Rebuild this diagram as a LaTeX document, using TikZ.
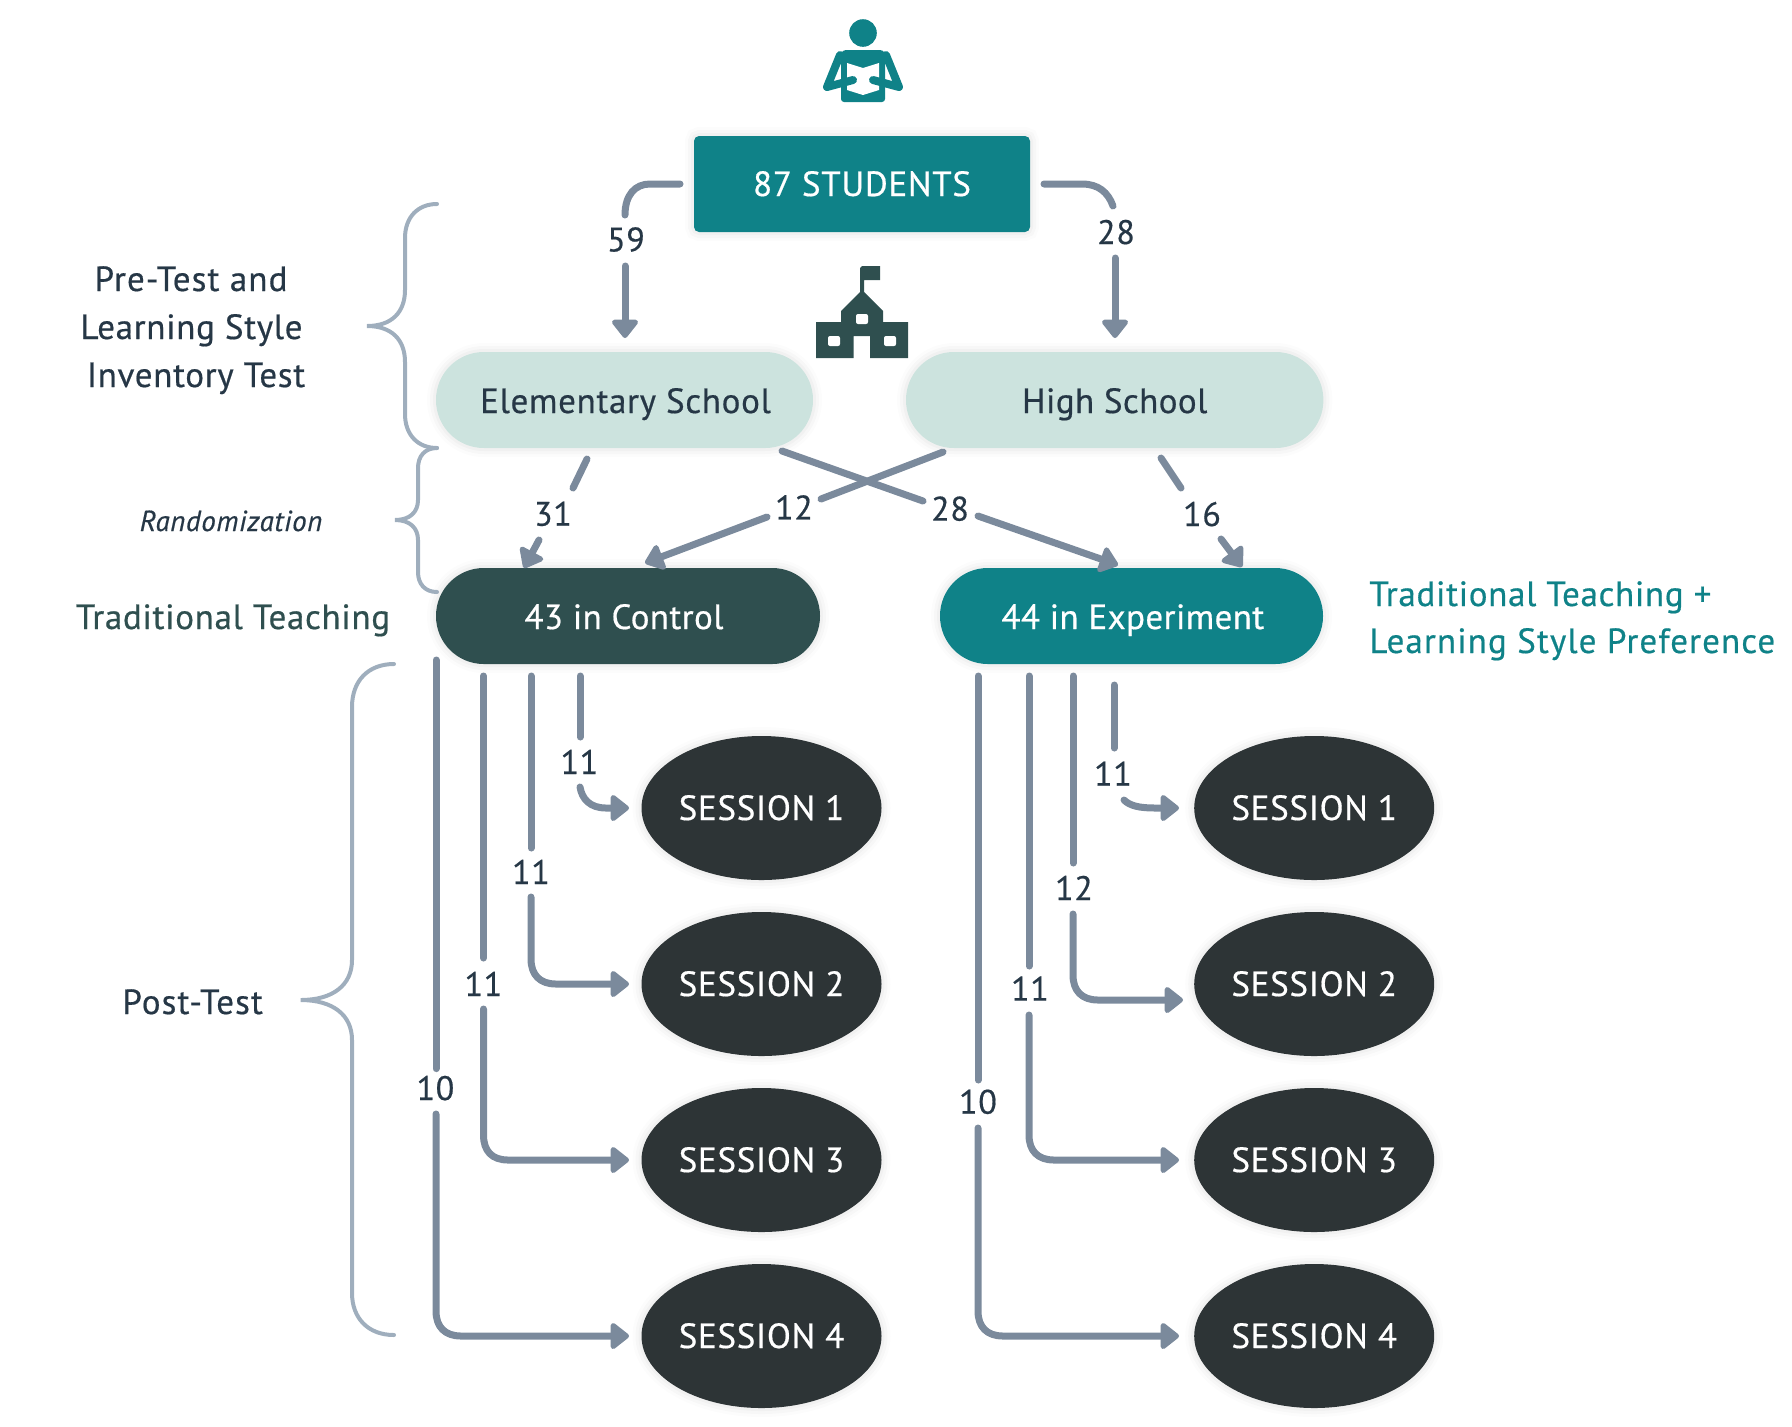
\documentclass[tikz,border=0pt]{standalone}
\usepackage{fontspec}
\setmainfont[LetterSpace=2,RawFeature={embolden=0.5}]{PT Sans}
\usetikzlibrary{arrows.meta,shapes.geometric}
\definecolor{tealc}{HTML}{0F8288}
\definecolor{slatec}{HTML}{2F4F4F}
\definecolor{mintc}{HTML}{CCE3DE}
\definecolor{darkc}{HTML}{2D3436}
\definecolor{inkc}{HTML}{263746}
\definecolor{linec}{HTML}{7B8A9C}
\definecolor{bracec}{HTML}{9FAEBD}
\tikzset{
  softshadow/.style={
    preaction={draw=black,draw opacity=.012,line width=9pt,yshift=-2pt,fill=none},
    preaction={draw=black,draw opacity=.018,line width=6pt,yshift=-2pt,fill=none},
    preaction={draw=black,draw opacity=.025,line width=3pt,yshift=-2pt,fill=none}},
  capbase/.style={text height=12pt,text depth=0pt,inner sep=0pt},
  txt/.style={font=\fontsize{17.5}{21}\selectfont},
  widetxt/.style={font=\fontsize{17.5}{21}\selectfont\addfontfeature{LetterSpace=3.2}},
  tighttxt/.style={font=\fontsize{17.5}{21}\selectfont\addfontfeature{LetterSpace=1.2}},
  whitetxt/.style={txt,text=white},
  pill/.style={rounded corners=23.9pt,minimum height=48pt,inner sep=0pt,capbase,text height=13pt,txt,softshadow},
  sessionnode/.style={ellipse,fill=darkc,minimum width=120pt,minimum height=72pt,inner sep=0pt,capbase,whitetxt,softshadow},
  conn/.style={draw=linec,line width=3.5pt,line cap=round},
  arrowconn/.style={conn,-{Triangle[length=10pt,width=15pt,round]}},
  brace/.style={draw=bracec,line width=2pt,line cap=round,fill=none},
  count/.style={txt,text=inkc,capbase,font=\fontsize{17}{20}\selectfont},
  side/.style={txt,text=inkc,capbase,anchor=center},
}
\begin{document}
\begin{tikzpicture}[x=0.5pt,y=-0.5pt]
\useasboundingbox (0,0) rectangle (1792,1426);
% person icon
\fill[tealc] (863,33) circle[radius=6.9pt];
\fill[tealc,rounded corners=1.5pt] (843,50) -- (883,50) -- (890,62) -- (885,62) -- (885,102) -- (841,102) -- (841,62) -- (836,62) -- cycle;
\fill[white] (847,63) -- (863,68) -- (879,63) -- (879,90) -- (863,95) -- (847,90) -- cycle;
\draw[tealc,line width=4pt,line cap=round,line join=round] (840,55) -- (827,87) -- (853,80);
\draw[tealc,line width=4pt,line cap=round,line join=round] (886,55) -- (899,87) -- (873,80);
% school icon
\fill[slatec] (860,268) -- (860,292) -- (841,311) -- (841,322) -- (816,322) -- (816,358) -- (853.5,358) -- (853.5,336) -- (870,336) -- (870,358) -- (908,358) -- (908,322) -- (883,322) -- (883,311) -- (864,292) -- (864,280) -- (880,280) -- (880,266) -- (862,266) -- cycle;
\fill[white,rounded corners=1pt] (856,314) rectangle (868,324);
\fill[white,rounded corners=1pt] (828,336) rectangle (840,346);
\fill[white,rounded corners=1pt] (884,336) rectangle (896,346);
% boxes
\node[rectangle,fill=tealc,rounded corners=2.5pt,minimum width=168pt,minimum height=48pt,capbase,whitetxt,softshadow] (students) at (862,184) {87 STUDENTS};
\node[pill,fill=mintc,text=inkc,minimum width=188.5pt] (elem) at (624.5,400) {\kern1pt Elementary School};
\node[pill,fill=mintc,text=inkc,tighttxt,minimum width=208.7pt] (high) at (1114.7,400) {High School};
\node[pill,fill=slatec,text=white,tighttxt,minimum width=192pt] (control) at (628,616) {\kern-4pt 43 in Control};
\node[pill,fill=tealc,text=white,tighttxt,minimum width=191.5pt] (exper) at (1131.5,616) {\kern1.3pt 44 in Experiment};
\foreach \n/\y/\t in {a/808/1,b/984/2,c/1160/3,d/1336/4}{
  \node[sessionnode] (l\n) at (761.5,\y) {SESSION \t};
  \node[sessionnode] (r\n) at (1314.2,\y) {SESSION \t};
}
% side labels
\node[side,widetxt] (pre1) at (191,279) {Pre-Test and};
\node[side] (pre2) at (191.5,327) {Learning Style};
\node[side] (pre3) at (196,375) {Inventory Test};
\node[txt,text=inkc,capbase,font=\fontsize{14.5}{18}\selectfont\itshape] (rand) at (231,519) {Randomization};
\node[side,text=slatec] (trad) at (233,617) {Traditional Teaching};
\node[txt,text=tealc,capbase,anchor=west] (tradr1) at (1369,594) {Traditional Teaching +};
\node[widetxt,text=tealc,capbase,anchor=west] (tradr2) at (1369,641) {Learning Style Preference};
\node[side,widetxt] (post) at (192.6,1002) {Post-Test};
% braces
\coordinate (b1t) at (437,204); \coordinate (b1m) at (367,326); \coordinate (b1b) at (437,448);
\coordinate (b2m) at (395,520); \coordinate (b2b) at (437,592);
\coordinate (b3t) at (394,664); \coordinate (b3m) at (300.6,1000); \coordinate (b3b) at (394,1335);
\draw[brace] (b1t) .. controls (418,204) and (405,217) .. (405,238) -- (405,290) .. controls (405,312) and (392,326) .. (b1m) .. controls (392,326) and (405,340) .. (405,362) -- (405,414) .. controls (405,435) and (418,448) .. (b1b);
\draw[brace] (b1b) .. controls (425,448) and (418,456) .. (418,468) -- (418,500) .. controls (418,512) and (410,520) .. (b2m) .. controls (410,520) and (418,528) .. (418,540) -- (418,572) .. controls (418,584) and (425,592) .. (b2b);
\draw[brace] (b3t) .. controls (368,664) and (352,681) .. (352,707) -- (352,960) .. controls (352,985) and (333,1000) .. (b3m) .. controls (333,1000) and (352,1015) .. (352,1040) -- (352,1293) .. controls (352,1318) and (368,1335) .. (b3b);
% connector labels
\foreach \n/\x/\y/\t in {c59/626/239.4/59,c28/1116/232/28,c31/553/513.7/31,c12/794/507.4/12,c28b/950/508.6/28,c16/1202/514/16,
  cl1/579.4/762/11,cl2/531/872/11,cl3/483.4/984/11,cl4/435.4/1088/10,
  cr1/1113/773.7/11,cr2/1074/888/12,cr3/1030/988.6/11,cr4/978/1101.7/10}{
  \node[count] (\n) at (\x,\y) {\t};
}
% connector end points
\foreach \n/\x/\y in {a1/680/184,a2/625/215,a3/625/266,a4/625/338,
 b1/1044/184,b2/1113/206,b3/1115/258,b4/1115/338,
 d1/587/459,d2/573/488,d3/539/540,d4/524/568,
 e1/943/452,e2/821/499,e3/767/517,e4/645/563,
 f1/782/451,f2/923/501,f3/978/516,f4/1118/565,
 g1/1161/458,g2/1181/488,g3/1221/539,g4/1242/567,
 h1/580/676,h2/580/737,h3/580/787,h4/629/808,
 i1/531/676,i2/531/848,i3/531/897,i4/629/984,
 j1/483.5/676,j2/483.5/958,j3/483.5/1009,j4/629/1160,
 k1/436/660,k2/436/1068.6,k3/436/1114,k4/629/1336,
 m1/1114/685,m2/1114/748,m3/1124/800,m4/1179/808,
 n1/1073/676,n2/1073/863,n3/1073/914,n4/1183/1000,
 o1/1029/676,o2/1029/966,o3/1029/1015,o4/1179/1160,
 p1/978/676,p2/978/1080,p3/978/1128,p4/1179/1336}{
  \coordinate (\n) at (\x,\y);
}
\draw[conn] (a1) -- (650,184) .. controls (635,184) and (625,195) .. (a2);
\draw[arrowconn] (a3) -- (a4);
\draw[conn] (b1) -- (1082,184) .. controls (1098,184) and (1108,192) .. (b2);
\draw[arrowconn] (b3) -- (b4);
\draw[conn] (d1) -- (d2); \draw[arrowconn] (d3) -- (d4);
\draw[conn] (e1) -- (e2); \draw[arrowconn] (e3) -- (e4);
\draw[conn] (f1) -- (f2); \draw[arrowconn] (f3) -- (f4);
\draw[conn] (g1) -- (g2); \draw[arrowconn] (g3) -- (g4);
\draw[conn] (h1) -- (h2); \draw[arrowconn] (h3) .. controls (582,799) and (590,808) .. (606,808) -- (h4);
\draw[conn] (i1) -- (i2); \draw[arrowconn] (i3) -- (531,959) .. controls (531,975) and (540,984) .. (556,984) -- (i4);
\draw[conn] (j1) -- (j2); \draw[arrowconn] (j3) -- (483.5,1135) .. controls (483.5,1151) and (492,1160) .. (508,1160) -- (j4);
\draw[conn] (k1) -- (k2); \draw[arrowconn] (k3) -- (436,1311) .. controls (436,1327) and (445,1336) .. (461,1336) -- (k4);
\draw[conn] (m1) -- (m2); \draw[arrowconn] (m3) .. controls (1130,806) and (1140,808) .. (1155,808) -- (m4);
\draw[conn] (n1) -- (n2); \draw[arrowconn] (n3) -- (1073,975) .. controls (1073,991) and (1082,1000) .. (1098,1000) -- (n4);
\draw[conn] (o1) -- (o2); \draw[arrowconn] (o3) -- (1029,1135) .. controls (1029,1151) and (1038,1160) .. (1054,1160) -- (o4);
\draw[conn] (p1) -- (p2); \draw[arrowconn] (p3) -- (978,1311) .. controls (978,1327) and (987,1336) .. (1003,1336) -- (p4);
\end{tikzpicture}
\end{document}
